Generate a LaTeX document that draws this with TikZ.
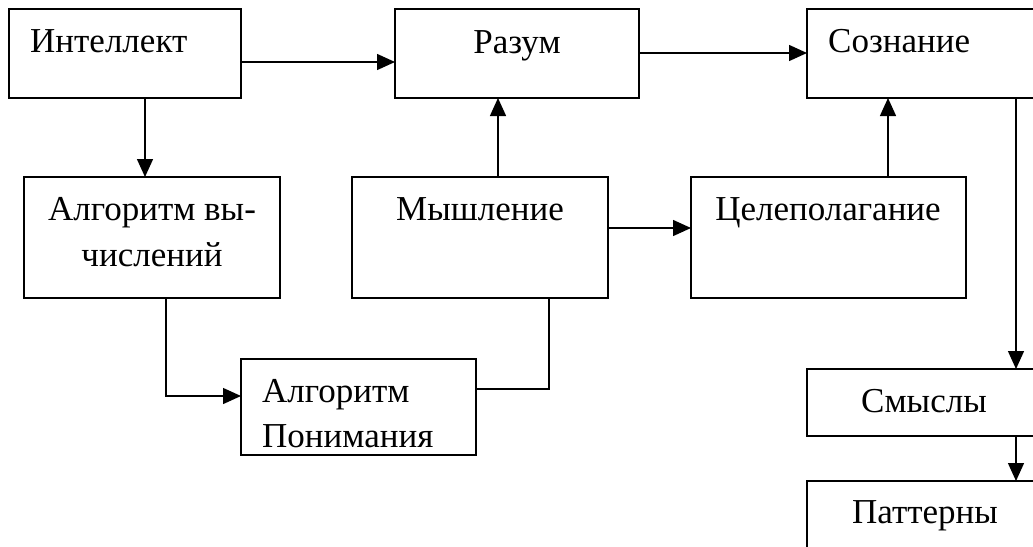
\documentclass[tikz,border=0pt]{standalone}
\usepackage{fontspec}
\setmainfont{Liberation Serif}
\usetikzlibrary{arrows.meta}
\begin{document}
\begin{tikzpicture}[x=1pt,y=-1pt,
  box/.style={draw, line width=1.4pt, rectangle, inner sep=0pt, outer sep=0pt, anchor=north west},
  lbl/.style={font=\fontsize{35}{40}\selectfont, inner sep=0pt},
  arr/.style={line width=1.4pt, -{Triangle[length=18pt,width=16pt]}},
  ln/.style={line width=1.4pt}]
\useasboundingbox (0,0) rectangle (1033,546);
\clip (0,0) rectangle (1033,546);
% boxes
\node[box, minimum width=232pt, minimum height=89pt] (int) at (9,9) {};
\node[box, minimum width=244pt, minimum height=89pt] (raz) at (395,9) {};
\node[box, minimum width=240pt, minimum height=89pt] (soz) at (807,9) {};
\node[box, minimum width=256pt, minimum height=121pt] (avych) at (24,177) {};
\node[box, minimum width=256pt, minimum height=121pt] (mysh) at (352,177) {};
\node[box, minimum width=275pt, minimum height=121pt] (cel) at (691,177) {};
\node[box, minimum width=235pt, minimum height=96pt] (apon) at (241,359) {};
\node[box, minimum width=240pt, minimum height=67pt] (smy) at (807,369) {};
\node[box, minimum width=240pt, minimum height=100pt] (pat) at (807,481) {};
% labels
\node[lbl, anchor=base west] (tint) at (30,52) {Интеллект};
\node[lbl, anchor=base] (traz) at (517,53) {Разум};
\node[lbl, anchor=base west] (tsoz) at (828,52) {Сознание};
\node[lbl, anchor=base] (tav1) at (152,220) {Алгоритм вы-};
\node[lbl, anchor=base] (tav2) at (152,266) {числений};
\node[lbl, anchor=base] (tmysh) at (480,220) {Мышление};
\node[lbl, anchor=base] (tcel) at (828,220) {Целеполагание};
\node[lbl, anchor=base west] (tap1) at (262,402) {Алгоритм};
\node[lbl, anchor=base west] (tap2) at (262,447) {Понимания};
\node[lbl, anchor=base] (tsmy) at (924,412) {Смыслы};
\node[lbl, anchor=base] (tpat) at (925,523) {Паттерны};
% connectors
\draw[arr] ([yshift=-53pt]int.north east) -- ([yshift=-53pt]raz.north west);
\draw[arr] ([yshift=-44pt]raz.north east) -- ([yshift=-44pt]soz.north west);
\draw[arr] ([xshift=136pt]int.south west) -- ([xshift=121pt]avych.north west);
\draw[arr] ([xshift=146pt]mysh.north west) -- ([xshift=103pt]raz.south west);
\draw[arr] ([yshift=-51pt]mysh.north east) -- ([yshift=-51pt]cel.north west);
\draw[arr] ([xshift=197pt]cel.north west) -- ([xshift=81pt]soz.south west);
\draw[arr] ([xshift=209pt]soz.south west) -- ([xshift=209pt]smy.north west);
\draw[arr] ([xshift=209pt]smy.south west) -- ([xshift=209pt]pat.north west);
\draw[arr] ([xshift=142pt]avych.south west) |- ([yshift=-37pt]apon.north west);
\draw[ln] ([yshift=-30pt]apon.north east) -| ([xshift=197pt]mysh.south west);
\end{tikzpicture}
\end{document}
